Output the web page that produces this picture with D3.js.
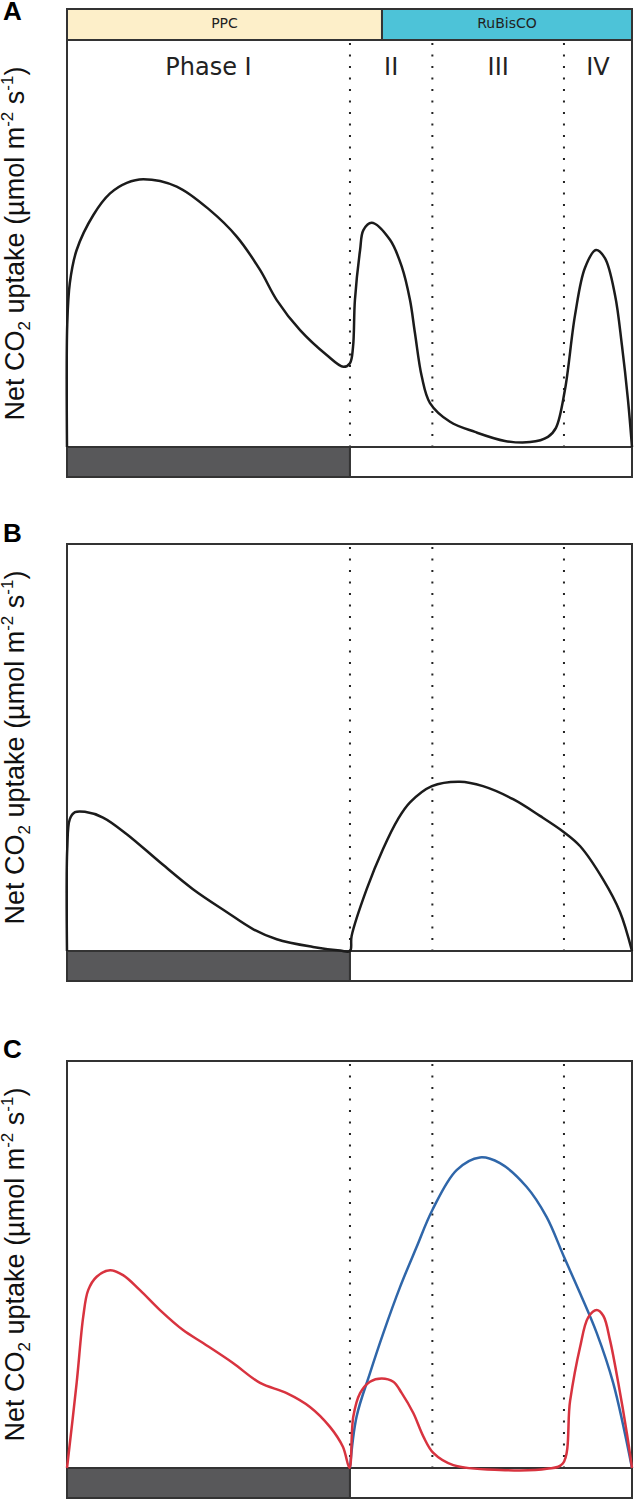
<!DOCTYPE html>
<html>
<head>
<meta charset="utf-8">
<script src="https://cdn.jsdelivr.net/npm/d3@7"></script>
<style>
  body { margin: 0; background: #fff; }
  svg { display: block; }
</style>
</head>
<body>
<svg id="chart"></svg>
<script>
var width = 634;
var height = 1500;

// time of day in hours (0 = dusk), values as % of the panel height
var phaseNames = ["Phase I", "II", "III", "IV"];
var phaseBounds = [0, 12.02, 15.52, 21.11, 24];
var enzymeNames = ["PPC", "RuBisCO"];
var enzymeBounds = [0, 13.38, 24];
var darkPeriod = [0, 12.02];

var curveA = [[0,0],[0.01,30],[0.12,40.3],[0.41,48.4],[1.12,57.0],[1.83,62.3],[2.54,64.9],[3.24,65.8],[4.66,64.0],
  [6.07,58.2],[7.21,51.7],[8.2,43.5],[8.91,36.1],[9.9,28.7],[11.03,22.6],[11.74,19.7],[12.02,20.6],
  [12.15,24.6],[12.23,36.1],[12.45,48.4],[12.59,53.3],[12.94,55.1],[13.72,50.9],[14.22,44.3],
  [14.57,36.1],[14.78,28.0],[15.07,17.3],[15.42,10.8],[16.27,6.2],[17.33,3.7],[18.6,1.5],[19.67,1.2],
  [20.43,2.5],[20.77,4.7],[21.15,14.0],[21.58,32.4],[22.0,44.0],[22.47,48.4],[22.85,46.4],
  [23.28,37.3],[23.57,25.1],[23.83,11.5],[24,0]];

var curveB = [[0,0],[0.01,25],[0.12,32.4],[0.34,34.1],[0.76,34.2],[1.53,32.8],[2.54,28.7],[3.95,21.8],
  [5.35,15.2],[6.78,9.6],[7.9,5.4],[8.91,2.9],[10.45,1.0],[11.6,0.1],[12.02,0],[12.09,3.7],
  [12.73,15.2],[13.42,25.0],[14.06,32.4],[14.57,36.5],[15.5,40.5],[16.69,41.6],[17.67,40.5],
  [18.95,37.3],[20.09,33.2],[21.11,29.2],[21.79,25.8],[22.77,17.6],[23.49,9.6],[24,0]];

var curveCBlue = [[12.02,0],[12.3,12.6],[12.87,23.3],[13.44,33.2],[14.15,44.5],[14.85,54.3],
  [15.52,63.4],[16.55,73.2],[17.54,76.3],[18.39,74.9],[19.52,69.1],[20.37,61.7],[21.11,51.9],
  [21.79,43.0],[22.5,33.2],[23.2,20.9],[24,0]];

var curveCRed = [[0,0],[0.41,20.9],[0.69,37.2],[0.9,43.7],[1.26,47.0],[1.83,48.6],[2.38,47.4],
  [3.1,43.7],[3.95,38.8],[4.93,33.9],[5.78,30.7],[7.05,25.8],[8.2,20.9],[9.33,18.4],[10.32,15.0],
  [11.17,10.1],[11.72,5.2],[12.0,0],[12.16,12.6],[12.45,18.4],[12.87,21.2],[13.37,22.0],[13.86,21.2],
  [14.22,18.4],[14.71,13.5],[15.14,7.7],[15.56,3.7],[16.41,0.7],[18.39,-0.5],[20.38,-0.2],
  [21.06,1.1],[21.37,16.5],[21.79,29.6],[22.14,37.0],[22.5,38.8],[22.78,37.4],[23.07,31.3],
  [23.42,20.8],[23.78,8.6],[24,0]];

var panels = [
  { letter: "A", top: 40, letterY: 20, series: [{ data: curveA, color: "#1b1b1b" }], header: true, phases: true },
  { letter: "B", top: 544, letterY: 542, series: [{ data: curveB, color: "#1b1b1b" }] },
  { letter: "C", top: 1061, letterY: 1058, series: [{ data: curveCBlue, color: "#2f66a9" }, { data: curveCRed, color: "#d8333f" }] }
];

var boxH = 407, barH = 30;
var x = d3.scaleLinear().domain([0, 24]).range([67, 632]);

var svg = d3.select("#chart").attr("width", width).attr("height", height);

panels.forEach(function (p) {
  var g = svg.append("g");
  var y = d3.scaleLinear().domain([0, 100]).range([p.top + boxH, p.top]);

  g.append("text")
    .attr("x", 3).attr("y", p.letterY)
    .style("font", "bold 26px 'Liberation Sans', Arial, sans-serif")
    .text(p.letter);

  if (p.header) {
    var cols = ["#fdefc9", "#4dc3d8"];
    enzymeNames.forEach(function (n, i) {
      g.append("rect")
        .attr("x", x(enzymeBounds[i])).attr("y", 9)
        .attr("width", x(enzymeBounds[i + 1]) - x(enzymeBounds[i])).attr("height", p.top - 9)
        .attr("fill", cols[i]).attr("stroke", "#333").attr("stroke-width", 2);
      g.append("text")
        .attr("x", (x(enzymeBounds[i]) + x(enzymeBounds[i + 1])) / 2).attr("y", 28)
        .attr("text-anchor", "middle")
        .style("font", "14px 'DejaVu Sans', sans-serif").style("fill", "#222")
        .text(n);
    });
  }

  // box
  g.append("rect")
    .attr("x", x(0)).attr("y", p.top)
    .attr("width", x(24) - x(0)).attr("height", boxH)
    .attr("fill", "none").attr("stroke", "#333").attr("stroke-width", 2);

  // dotted phase boundaries
  phaseBounds.slice(1, 4).forEach(function (b) {
    g.append("line")
      .attr("x1", x(b)).attr("x2", x(b))
      .attr("y1", p.top + 3).attr("y2", p.top + boxH)
      .attr("stroke", "#222").attr("stroke-width", 2)
      .attr("stroke-dasharray", "2,9.5");
  });

  if (p.phases) {
    phaseNames.forEach(function (n, i) {
      g.append("text")
        .attr("x", (x(phaseBounds[i]) + x(phaseBounds[i + 1])) / 2).attr("y", 75)
        .attr("text-anchor", "middle")
        .style("font", "24px 'DejaVu Sans', sans-serif").style("fill", "#222")
        .text(n);
    });
  }

  // day/night bar
  g.append("rect")
    .attr("x", x(darkPeriod[0])).attr("y", p.top + boxH)
    .attr("width", x(darkPeriod[1]) - x(darkPeriod[0])).attr("height", barH)
    .attr("fill", "#58585a").attr("stroke", "#333").attr("stroke-width", 2);
  g.append("rect")
    .attr("x", x(darkPeriod[1])).attr("y", p.top + boxH)
    .attr("width", x(24) - x(darkPeriod[1])).attr("height", barH)
    .attr("fill", "#fff").attr("stroke", "#333").attr("stroke-width", 2);

  var line = d3.line()
    .x(function (d) { return x(d[0]); })
    .y(function (d) { return y(d[1]); })
    .curve(d3.curveCatmullRom.alpha(0.5));

  p.series.forEach(function (s) {
    g.append("path")
      .datum(s.data)
      .attr("d", line)
      .attr("fill", "none")
      .attr("stroke", s.color)
      .attr("stroke-width", 2.5)
      .attr("stroke-linejoin", "round");
  });

  // y axis label
  var cy = p.top + boxH / 2;
  var lab = g.append("text")
    .attr("transform", "translate(24," + cy + ") rotate(-90)")
    .attr("text-anchor", "middle")
    .style("font", "27px 'Liberation Sans', Arial, sans-serif")
    .style("fill", "#111");
  lab.append("tspan").text("Net CO");
  lab.append("tspan").attr("dy", 6).style("font-size", "17px").text("2");
  lab.append("tspan").attr("dy", -6).text(" uptake (µmol m");
  lab.append("tspan").attr("dy", -11).style("font-size", "17px").text("-2");
  lab.append("tspan").attr("dy", 11).text(" s");
  lab.append("tspan").attr("dy", -11).style("font-size", "17px").text("-1");
  lab.append("tspan").attr("dy", 11).text(")");
});
</script>
</body>
</html>
